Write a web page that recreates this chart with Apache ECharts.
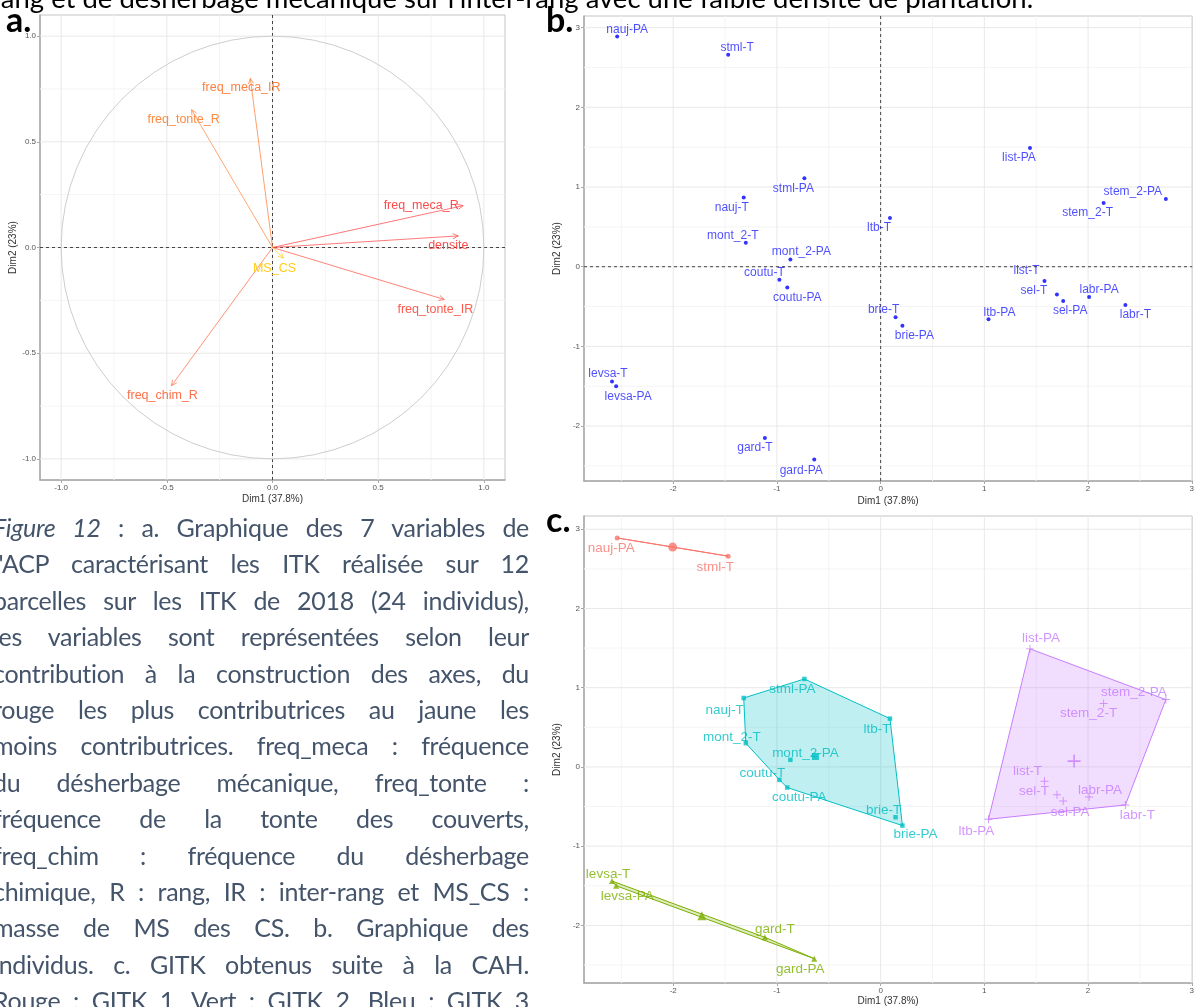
<!DOCTYPE html>
<html>
<head>
<meta charset="utf-8">
<script src="https://cdn.jsdelivr.net/npm/echarts/dist/echarts.min.js"></script>
<style>
  body { margin: 0; background: #fff; width: 1197px; height: 1007px; overflow: hidden; position: relative; }
  #chart { position: absolute; left: 0; top: 0; width: 1197px; height: 1007px; }
  .topline { position: absolute; left: -9px; top: -16px; font: 27.5px Lato, sans-serif; color: #000; white-space: nowrap; line-height: 27.5px; font-variant-ligatures: none; }
  .caption { position: absolute; left: -7px; top: 509px; width: 536px; font: 25px Lato, sans-serif; color: #44546A; letter-spacing: -0.3px; font-variant-ligatures: none; }
  .caption div { height: 36.4px; line-height: 36.4px; text-align: justify; text-align-last: justify; white-space: nowrap; }
</style>
</head>
<body>
<div id="chart"></div>
<div class="topline">rang et de désherbage mécanique sur l'inter-rang avec une faible densité de plantation.</div>
<div class="caption">
  <div><i>Figure 12</i> : a. Graphique des 7 variables de</div>
  <div>l'ACP caractérisant les ITK réalisée sur 12</div>
  <div>parcelles sur les ITK de 2018 (24 individus),</div>
  <div>les variables sont représentées selon leur</div>
  <div>contribution à la construction des axes, du</div>
  <div>rouge les plus contributrices au jaune les</div>
  <div>moins contributrices. freq_meca : fréquence</div>
  <div>du désherbage mécanique, freq_tonte :</div>
  <div>fréquence de la tonte des couverts,</div>
  <div>freq_chim : fréquence du désherbage</div>
  <div>chimique, R : rang, IR : inter-rang et MS_CS :</div>
  <div>masse de MS des CS. b. Graphique des</div>
  <div>individus. c. GITK obtenus suite à la CAH.</div>
  <div>Rouge : GITK 1, Vert : GITK 2, Bleu : GITK 3</div>
</div>
<script>
// variables de l'ACP (a)
const variables = ['freq_meca_IR', 'freq_tonte_R', 'freq_meca_R', 'densite', 'freq_tonte_IR', 'freq_chim_R', 'MS_CS'];
const varDim1 = [-0.105, -0.383, 0.902, 0.879, 0.813, -0.478, 0.052];
const varDim2 = [0.80, 0.652, 0.198, 0.055, -0.246, -0.654, -0.05];

// individus (b, c)
const individus = ['nauj-PA', 'stml-T', 'stml-PA', 'nauj-T', 'mont_2-T', 'mont_2-PA', 'coutu-T', 'coutu-PA',
  'levsa-T', 'levsa-PA', 'gard-T', 'gard-PA', 'ltb-T', 'list-PA', 'stem_2-T', 'stem_2-PA',
  'brie-T', 'brie-PA', 'ltb-PA', 'list-T', 'sel-T', 'sel-PA', 'labr-PA', 'labr-T'];
const dim1 = [-2.54, -1.47, -0.735, -1.32, -1.30, -0.87, -0.976, -0.90,
  -2.59, -2.55, -1.116, -0.64, 0.09, 1.44, 2.15, 2.75,
  0.144, 0.21, 1.04, 1.58, 1.70, 1.76, 2.01, 2.36];
const dim2 = [2.89, 2.66, 1.11, 0.87, 0.30, 0.09, -0.163, -0.26,
  -1.44, -1.50, -2.15, -2.42, 0.61, 1.49, 0.80, 0.85,
  -0.635, -0.74, -0.66, -0.18, -0.35, -0.43, -0.38, -0.48];
// GITK (CAH)
const groupe = [1, 1, 3, 3, 3, 3, 3, 3, 2, 2, 2, 2, 3, 4, 4, 4, 3, 3, 4, 4, 4, 4, 4, 4];

// ticks
const ticksA = [-1, -0.5, 0, 0.5, 1];
const minorA = [-0.75, -0.25, 0.25, 0.75];
const ticksB = [-2, -1, 0, 1, 2, 3];
const minorB = [-2.5, -1.5, -0.5, 0.5, 1.5, 2.5];

// --- styles / layout ---
const varColors = ['#FF7F3F', '#FF8A40', '#FF4A4A', '#FF4D4D', '#FF5A4C', '#FF7048', '#FFCC1A'];
const varLabelOffset = {
  'freq_meca_IR': [-9, 9], 'freq_tonte_R': [-8, 10], 'freq_meca_R': [-42, 0], 'densite': [-10, 10],
  'freq_tonte_IR': [-9, 10], 'freq_chim_R': [-9, 10], 'MS_CS': [-9, 10]
};
const labelOffsetB = {
  'nauj-PA': [10, -7], 'stml-T': [9, -7], 'stml-PA': [-11, 10], 'nauj-T': [-12, 10], 'mont_2-T': [-13, -7],
  'mont_2-PA': [11, -8], 'coutu-T': [-15, -7], 'coutu-PA': [10, 10], 'levsa-T': [-4, -8], 'levsa-PA': [12, 10],
  'gard-T': [-10, 10], 'gard-PA': [-13, 11], 'ltb-T': [-11, 10], 'list-PA': [-11, 10], 'stem_2-T': [-16, 10],
  'stem_2-PA': [-33, -7], 'brie-T': [-12, -8], 'brie-PA': [12, 10], 'ltb-PA': [11, -7], 'list-T': [-18, -10],
  'sel-T': [-23, -4], 'sel-PA': [7, 10], 'labr-PA': [10, -7], 'labr-T': [10, 10]
};
const labelOffsetC = {
  'nauj-PA': [-6, 10], 'stml-T': [-13, 11], 'stml-PA': [-12, 10], 'nauj-T': [-19, 12], 'mont_2-T': [-14, -6],
  'mont_2-PA': [15, -7], 'coutu-T': [-17, -7], 'coutu-PA': [12, 10], 'ltb-T': [-13, 11], 'brie-T': [-12, -7],
  'brie-PA': [13, 9], 'list-PA': [11, -11], 'stem_2-PA': [-32, -7], 'stem_2-T': [-15, 10], 'list-T': [-17, -10],
  'sel-T': [-23, -3], 'sel-PA': [7, 11], 'labr-PA': [11, -7], 'labr-T': [12, 10], 'ltb-PA': [-12, 12],
  'levsa-T': [-4, -7], 'levsa-PA': [11, 11], 'gard-T': [10, -8], 'gard-PA': [-14, 11]
};
const groupColors = { 1: '#F8766D', 2: '#7CAE00', 3: '#00BFC4', 4: '#C77CFF' };
const plusPath = 'path://M0,4.4H10V5.6H0Z M4.4,0H5.6V10H4.4Z';
const groupSymbols = {
  1: ['circle', 5, 9], 2: ['triangle', 6, 9], 3: ['rect', 4.5, 7], 4: [plusPath, 8, 13]
};

const extA = { x: [-1.1, 1.1], y: [-1.1, 1.1] };
const extB = { x: [-2.86, 3.004], y: [-2.689, 3.146] };
const extC = { x: [-2.86, 3.004], y: [-2.727, 3.167] };

const FONT = 'Liberation Sans';
const chart = echarts.init(document.getElementById('chart'), null, { renderer: 'canvas' });

function rgba(hex, a) {
  const n = parseInt(hex.slice(1), 16);
  return 'rgba(' + (n >> 16) + ',' + ((n >> 8) & 255) + ',' + (n & 255) + ',' + a + ')';
}

function convexHull(points) {
  const p = points.slice().sort((a, b) => a[0] - b[0] || a[1] - b[1]);
  if (p.length < 3) return p;
  const cross = (o, a, b) => (a[0] - o[0]) * (b[1] - o[1]) - (a[1] - o[1]) * (b[0] - o[0]);
  const lower = [], upper = [];
  for (const q of p) {
    while (lower.length >= 2 && cross(lower[lower.length - 2], lower[lower.length - 1], q) <= 0) lower.pop();
    lower.push(q);
  }
  for (let i = p.length - 1; i >= 0; i--) {
    const q = p[i];
    while (upper.length >= 2 && cross(upper[upper.length - 2], upper[upper.length - 1], q) <= 0) upper.pop();
    upper.push(q);
  }
  upper.pop(); lower.pop();
  return lower.concat(upper);
}

function xAxis(gi, ext, ticks, gap, fmt) {
  return {
    type: 'value', gridIndex: gi, min: ext.x[0], max: ext.x[1],
    name: 'Dim1 (37.8%)', nameLocation: 'middle', nameGap: gap,
    nameTextStyle: { fontSize: 10, color: '#333', fontFamily: FONT },
    axisLine: { show: true, onZero: false, lineStyle: { color: '#A8A8A8', width: 1.5 } },
    axisTick: { show: true, length: 3, customValues: ticks, lineStyle: { color: '#A8A8A8' } },
    axisLabel: { customValues: ticks, fontSize: 8, color: '#555', margin: 4, fontFamily: FONT, formatter: fmt },
    splitLine: { show: false }
  };
}
function yAxis(gi, ext, ticks, gap, fmt) {
  return {
    type: 'value', gridIndex: gi, min: ext.y[0], max: ext.y[1],
    name: 'Dim2 (23%)', nameLocation: 'middle', nameGap: gap,
    nameTextStyle: { fontSize: 10, color: '#333', fontFamily: FONT },
    axisLine: { show: true, onZero: false, lineStyle: { color: '#A8A8A8', width: 1.5 } },
    axisTick: { show: true, length: 3, customValues: ticks, lineStyle: { color: '#A8A8A8' } },
    axisLabel: { customValues: ticks, fontSize: 8, color: '#555', margin: 4, fontFamily: FONT, formatter: fmt },
    splitLine: { show: false }
  };
}

// grid lines drawn through the axes' scales
function lines(gi, ext, vx, vy, color, dash) {
  const data = vx.map(v => [v, 0]).concat(vy.map(v => [v, 1]));
  return {
    type: 'custom', xAxisIndex: gi, yAxisIndex: gi, silent: true, z: 1,
    data: data,
    renderItem: function (params, api) {
      const v = api.value(0);
      const horiz = api.value(1) === 1;
      const p1 = horiz ? api.coord([ext.x[0], v]) : api.coord([v, ext.y[0]]);
      const p2 = horiz ? api.coord([ext.x[1], v]) : api.coord([v, ext.y[1]]);
      return {
        type: 'line', shape: { x1: p1[0], y1: p1[1], x2: p2[0], y2: p2[1] },
        style: { stroke: color, lineWidth: 1, lineDash: dash || null }
      };
    }
  };
}

const fmt1 = v => (+v).toFixed(1);
const fmt0 = v => String(+v);

const series = [];

// ---------- a ----------
series.push(lines(0, extA, minorA, minorA, '#F4F4F4'));
series.push(lines(0, extA, ticksA, ticksA, '#E8E8E8'));
series.push({
  type: 'custom', xAxisIndex: 0, yAxisIndex: 0, silent: true, z: 2,
  data: [[0, 0]],
  renderItem: function (params, api) {
    const c = api.coord([0, 0]);
    const r = api.size([1, 1])[0];
    return { type: 'circle', shape: { cx: c[0], cy: c[1], r: r }, style: { fill: 'none', stroke: '#CDCDCD', lineWidth: 1 } };
  }
});
series.push(lines(0, extA, [0], [0], '#444', [3, 3]));
series.push({
  type: 'custom', xAxisIndex: 0, yAxisIndex: 0, silent: true, z: 3,
  data: variables.map((n, i) => [varDim1[i], varDim2[i], i]),
  renderItem: function (params, api) {
    const i = api.value(2);
    const o = api.coord([0, 0]);
    const p = api.coord([api.value(0), api.value(1)]);
    const ang = Math.atan2(p[1] - o[1], p[0] - o[0]);
    const h = 6, w = Math.PI / 7;
    const a1 = [p[0] - h * Math.cos(ang - w), p[1] - h * Math.sin(ang - w)];
    const a2 = [p[0] - h * Math.cos(ang + w), p[1] - h * Math.sin(ang + w)];
    const col = varColors[i];
    const off = varLabelOffset[variables[i]];
    return {
      type: 'group', children: [
        { type: 'line', shape: { x1: o[0], y1: o[1], x2: p[0], y2: p[1] }, style: { stroke: col, lineWidth: 1, opacity: 0.75 } },
        { type: 'polyline', shape: { points: [a1, p, a2] }, style: { stroke: col, fill: 'none', lineWidth: 1, opacity: 0.75 } },
        { type: 'text', x: p[0] + off[0], y: p[1] + off[1],
          style: { text: variables[i], fill: col, fontSize: 12.5, fontFamily: FONT, align: 'center', verticalAlign: 'middle' } }
      ]
    };
  }
});

// ---------- b ----------
series.push(lines(1, extB, minorB, minorB.filter(v => v < 3), '#F4F4F4'));
series.push(lines(1, extB, ticksB, ticksB, '#E8E8E8'));
series.push(lines(1, extB, [0], [0], '#444', [3, 3]));
series.push({
  type: 'scatter', xAxisIndex: 1, yAxisIndex: 1, z: 4, symbolSize: 4,
  itemStyle: { color: '#0000FF' },
  data: individus.map((n, i) => ({ name: n, value: [dim1[i], dim2[i]], label: { offset: labelOffsetB[n] } })),
  label: { show: true, position: 'inside', formatter: '{b}', color: '#1F1FFF', fontSize: 12, fontFamily: FONT }
});

// ---------- c ----------
series.push(lines(2, extC, minorB, minorB.filter(v => v < 3), '#F4F4F4'));
series.push(lines(2, extC, ticksB, ticksB, '#E8E8E8'));
[1, 2, 3, 4].forEach(g => {
  const idx = individus.map((n, i) => i).filter(i => groupe[i] === g);
  const pts = idx.map(i => [dim1[i], dim2[i]]);
  const hull = convexHull(pts);
  const col = groupColors[g];
  series.push({
    type: 'custom', xAxisIndex: 2, yAxisIndex: 2, silent: true, z: 3,
    data: hull,
    renderItem: function (params, api) {
      if (params.dataIndex !== 0) return;
      const poly = hull.map(p => api.coord(p));
      return { type: 'polygon', shape: { points: poly }, style: { fill: rgba(col, 0.25), stroke: col, lineWidth: 1 } };
    }
  });
});
[1, 2, 3, 4].forEach(g => {
  const idx = individus.map((n, i) => i).filter(i => groupe[i] === g);
  const col = groupColors[g];
  const sym = groupSymbols[g];
  series.push({
    type: 'scatter', xAxisIndex: 2, yAxisIndex: 2, z: 4,
    symbol: sym[0], symbolSize: sym[1], itemStyle: { color: col },
    data: idx.map(i => ({ name: individus[i], value: [dim1[i], dim2[i]], label: { offset: labelOffsetC[individus[i]] } })),
    label: { show: true, position: 'inside', formatter: '{b}', color: col, fontSize: 13.5, fontFamily: FONT }
  });
  const cx = idx.reduce((s, i) => s + dim1[i], 0) / idx.length;
  const cy = idx.reduce((s, i) => s + dim2[i], 0) / idx.length;
  series.push({
    type: 'scatter', xAxisIndex: 2, yAxisIndex: 2, z: 4,
    symbol: sym[0], symbolSize: sym[2], itemStyle: { color: col },
    data: [[cx, cy]]
  });
});

chart.setOption({
  animation: false,
  grid: [
    { left: 40, top: 15, width: 465, height: 465, show: true, borderColor: '#C4C4C4', borderWidth: 1 },
    { left: 584, top: 16, width: 611, height: 465, show: true, borderColor: '#C4C4C4', borderWidth: 1 },
    { left: 584, top: 516, width: 611, height: 468, show: true, borderColor: '#C4C4C4', borderWidth: 1 }
  ],
  xAxis: [xAxis(0, extA, ticksA, 14, fmt1), xAxis(1, extB, ticksB, 15, fmt0), xAxis(2, extC, ticksB, 13, fmt0)],
  yAxis: [yAxis(0, extA, ticksA, 22, fmt1), yAxis(1, extB, ticksB, 13, fmt0), yAxis(2, extC, ticksB, 13, fmt0)],
  graphic: [
    { type: 'text', left: 6, top: 4, z: 10, style: { text: 'a.', font: 'bold 34px Lato', fill: '#000' } },
    { type: 'text', left: 546, top: 4, z: 10, style: { text: 'b.', font: 'bold 34px Lato', fill: '#000' } },
    { type: 'text', left: 546, top: 504, z: 10, style: { text: 'c.', font: 'bold 34px Lato', fill: '#000' } }
  ],
  series: series
});
</script>
</body>
</html>
